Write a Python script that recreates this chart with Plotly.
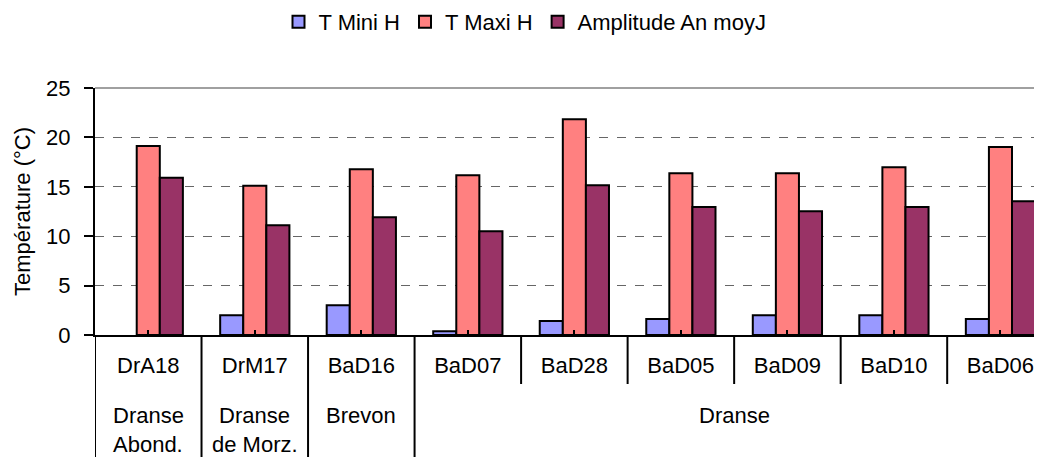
import plotly.graph_objects as go

stations = ["DrA18", "DrM17", "BaD16", "BaD07", "BaD28", "BaD05", "BaD09", "BaD10", "BaD06"]
t_mini = [None, 2.0, 3.0, 0.37, 1.42, 1.62, 2.0, 2.0, 1.62]
t_maxi = [19.13, 15.11, 16.77, 16.18, 21.83, 16.38, 16.38, 16.99, 19.02]
amplitude = [15.92, 11.1, 11.91, 10.49, 15.16, 12.96, 12.52, 12.96, 13.54]

# river groups: (label lines, first station index, last station index)
groups = [
    (["Dranse", "Abond."], 0, 0),
    (["Dranse", "de Morz."], 1, 1),
    (["Brevon"], 2, 2),
    (["Dranse"], 3, 8),
]

series_names = ["T Mini H", "T Maxi H", "Amplitude An moyJ"]
colors = ["#9999FF", "#FF8080", "#993366"]

FONT = "Liberation Sans, Arial, sans-serif"
FS = 22

# the page body has an 8px margin, so the figure is drawn 8px smaller
W, H = 1034, 449
ML, MT, MB = 87, 80, 122

fig = go.Figure()
for name, vals, col in zip(series_names, [t_mini, t_maxi, amplitude], colors):
    fig.add_trace(go.Bar(
        x=stations, y=vals, name=name,
        marker=dict(color=col, line=dict(color="black", width=2)),
    ))

plot_h = H - MT - MB
short = -49 / plot_h
full = -1.0

shapes = []
# top border line
shapes.append(dict(type="line", xref="paper", yref="paper", x0=0, x1=1, y0=1, y1=1,
                   line=dict(color="#A0A0A0", width=2)))
group_bounds = set()
for _, a, b in groups:
    group_bounds.add(a - 0.5)
    group_bounds.add(b + 0.5)
for i in range(len(stations) + 1):
    xb = i - 0.5
    shapes.append(dict(type="line", xref="x", yref="paper", x0=xb, x1=xb, y0=0,
                       y1=full if xb in group_bounds else short,
                       line=dict(color="black", width=2)))

annotations = []
for lines, a, b in groups:
    xc = (a + b) / 2
    for k, txt in enumerate(lines):
        annotations.append(dict(x=xc, y=0, xref="x", yref="y", text=txt, showarrow=False,
                                yanchor="middle", yshift=-80 - 29 * k,
                                font=dict(family=FONT, size=FS, color="black")))

fig.update_layout(
    width=W, height=H,
    margin=dict(l=ML, r=0, t=MT, b=MB, autoexpand=False),
    paper_bgcolor="white", plot_bgcolor="white",
    barmode="group", bargap=0.35, bargroupgap=0,
    font=dict(family=FONT, size=FS, color="black"),
    legend=dict(orientation="h", xref="container", yref="container", x=0.5, y=1 - 14 / H,
                xanchor="center", yanchor="middle", font=dict(size=FS),
                itemwidth=30, tracegroupgap=0),
    xaxis=dict(type="category", range=[-0.5, 8.39], showline=True, linecolor="black",
               linewidth=2, ticks="inside", ticklen=5, tickwidth=2, tickcolor="black",
               showgrid=False, ticklabelstandoff=10, tickfont=dict(size=FS),
               automargin=False),
    yaxis=dict(range=[0, 25], dtick=5, showline=True, linecolor="black", linewidth=2,
               ticks="outside", ticklen=9, tickwidth=2, tickcolor="black",
               showgrid=True, gridcolor="#666666", griddash="dash", gridwidth=1,
               zeroline=False, tickfont=dict(size=FS), ticklabelstandoff=9,
               automargin=False,
               title=dict(text="Température (°C)", font=dict(size=FS), standoff=9)),
    shapes=shapes, annotations=annotations,
)

fig.write_html("out.html")
